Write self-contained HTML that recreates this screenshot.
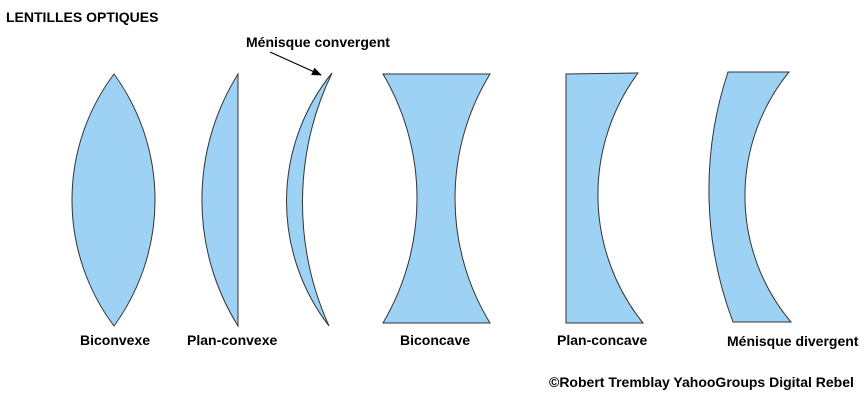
<!DOCTYPE html>
<html><head><meta charset="utf-8"><style>
html,body{margin:0;padding:0;background:#fff;}
svg{display:block}
text{font-family:"Liberation Sans",Arial,sans-serif;font-weight:bold;font-size:14px;fill:#000}
</style></head><body>
<svg width="864" height="400" viewBox="0 0 864 400" xmlns="http://www.w3.org/2000/svg">
<defs><marker id="ah" markerWidth="10" markerHeight="8" refX="9" refY="4" orient="auto" markerUnits="userSpaceOnUse"><path d="M0,0 L10,4 L0,8 Z" fill="#000"/></marker></defs>
<g fill="#9dd2f5" stroke="#333" stroke-width="1">
<path d="M114,74 A210,210 0 0 0 114,326 A214,214 0 0 0 114,74 Z"/>
<path d="M238,74 A238,238 0 0 0 238,326 Z"/>
<path d="M332,73 A204,204 0 0 0 329,326 A300,300 0 0 1 332,73 Z"/>
<path d="M383,74 L490,74 A239,239 0 0 0 490,323 L383,323 A245,245 0 0 0 383,74 Z"/>
<path d="M566,74 L638,73 A205,205 0 0 0 643,323 L566,323 Z"/>
<path d="M728,72 L789,72 A196,196 0 0 0 791,322 L733,322 A374,374 0 0 1 728,72 Z"/>
</g>
<line x1="270" y1="52" x2="321" y2="75" stroke="#000" stroke-width="1.2" marker-end="url(#ah)"/>
<text x="6" y="22">LENTILLES OPTIQUES</text>
<text x="246" y="47">Ménisque convergent</text>
<text x="80" y="345">Biconvexe</text>
<text x="187" y="345">Plan-convexe</text>
<text x="400" y="345">Biconcave</text>
<text x="557" y="345">Plan-concave</text>
<text x="727" y="346">Ménisque divergent</text>
<text x="549" y="387">©Robert Tremblay YahooGroups Digital Rebel</text>
</svg>
</body></html>
